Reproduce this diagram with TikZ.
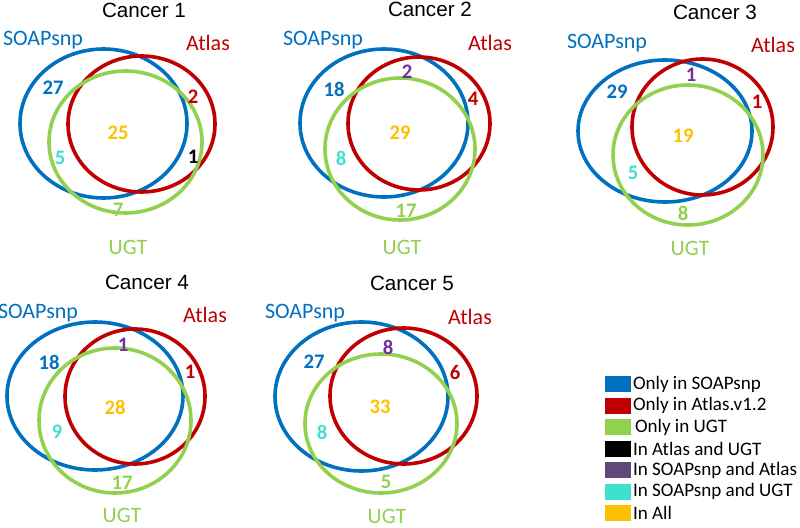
\documentclass[tikz,border=0pt]{standalone}
\usepackage{fontspec}
\setmainfont{Carlito}
\newfontfamily\titlefont{Liberation Sans}
\usepackage{tikz}
\usetikzlibrary{positioning}
\definecolor{corSoap}{RGB}{0,112,192}
\definecolor{corAtlas}{RGB}{192,0,0}
\definecolor{corUgt}{RGB}{146,208,80}
\definecolor{corPar}{RGB}{112,48,160}
\definecolor{corLegPar}{RGB}{96,73,122}
\definecolor{corTurq}{RGB}{64,224,208}
\definecolor{corAll}{RGB}{255,192,0}

\begin{document}
\begin{tikzpicture}[
    x=0.75pt, y=-0.75pt,
    node distance=3.75pt,
    soap/.style={draw=corSoap, line width=2.7pt},
    atlas/.style={draw=corAtlas, line width=2.7pt},
    ugt/.style={draw=corUgt, line width=2.7pt},
    ttl/.style={font=\titlefont\fontsize{15.5}{18}\selectfont},
    setname/.style={font=\fontsize{16.5}{20}\selectfont},
    num/.style={font=\bfseries\fontsize{15.5}{18}\selectfont, inner sep=0pt},
    swatch/.style={minimum width=19.5pt, minimum height=12pt, inner sep=0pt},
    leg/.style={font=\fontsize{14.3}{17}\selectfont, inner sep=0pt, anchor=west}
]
\useasboundingbox (0,0) rectangle (800,528);

% Cancer 1
\draw[soap]  (103.5,123.5) ellipse [x radius=83.5, y radius=74.5];
\draw[atlas] (141.5,124) ellipse [x radius=73.5, y radius=68];
\draw[ugt]   (125.5,142) ellipse [x radius=76.5, y radius=71];
\node[ttl] (t1) at (144,10) {Cancer 1};
\node[setname, text=corSoap] (s1) at (43,40) {SOAPsnp};
\node[setname, text=corAtlas] (a1) at (208,43) {Atlas};
\node[setname, text=corUgt] (u1) at (128,247) {UGT};
\node[num, text=corSoap] (n1s) at (53,88) {27};
\node[num, text=corAtlas] (n1a) at (193,97) {2};
\node[num, text=corAll] (n1all) at (118,133) {25};
\node[num, text=corTurq] (n1su) at (60,158) {5};
\node[num, text=black] (n1au) at (193,157) {1};
\node[num, text=corUgt] (n1u) at (118,210) {7};

% Cancer 2
\draw[soap]  (384,123) ellipse [x radius=84, y radius=74];
\draw[atlas] (419,123.5) ellipse [x radius=71, y radius=66.5];
\draw[ugt]   (400,149) ellipse [x radius=75, y radius=71];
\node[ttl] (t2) at (430,9) {Cancer 2};
\node[setname, text=corSoap] (s2) at (323,40) {SOAPsnp};
\node[setname, text=corAtlas] (a2) at (490,43) {Atlas};
\node[setname, text=corUgt] (u2) at (402,247) {UGT};
\node[num, text=corPar] (n2sa) at (407,72) {2};
\node[num, text=corSoap] (n2s) at (334,89) {18};
\node[num, text=corAtlas] (n2a) at (473,99) {4};
\node[num, text=corAll] (n2all) at (400,133) {29};
\node[num, text=corTurq] (n2su) at (341,158) {8};
\node[num, text=corUgt] (n2u) at (406,211) {17};

% Cancer 3
\draw[soap]  (665,131) ellipse [x radius=87, y radius=71];
\draw[atlas] (702.5,127) ellipse [x radius=70.5, y radius=68];
\draw[ugt]   (688,155) ellipse [x radius=75, y radius=70];
\node[ttl] (t3) at (715,12) {Cancer 3};
\node[setname, text=corSoap] (s3) at (607,43) {SOAPsnp};
\node[setname, text=corAtlas] (a3) at (773,45) {Atlas};
\node[setname, text=corUgt] (u3) at (690,248) {UGT};
\node[num, text=corPar] (n3sa) at (691,75) {1};
\node[num, text=corSoap] (n3s) at (617,92) {29};
\node[num, text=corAtlas] (n3a) at (757,102) {1};
\node[num, text=corAll] (n3all) at (683,136) {19};
\node[num, text=corTurq] (n3su) at (633,173) {5};
\node[num, text=corUgt] (n3u) at (683,213) {8};

% Cancer 4
\draw[soap]  (95,396) ellipse [x radius=88, y radius=74];
\draw[atlas] (135,396.5) ellipse [x radius=70, y radius=67.5];
\draw[ugt]   (115,420.5) ellipse [x radius=76, y radius=72.5];
\node[ttl] (t4) at (147,282) {Cancer 4};
\node[setname, text=corSoap] (s4) at (38,313) {SOAPsnp};
\node[setname, text=corAtlas] (a4) at (205,315) {Atlas};
\node[setname, text=corUgt] (u4) at (122,515) {UGT};
\node[num, text=corPar] (n4sa) at (123,345) {1};
\node[num, text=corSoap] (n4s) at (49,362) {18};
\node[num, text=corAtlas] (n4a) at (190,372) {1};
\node[num, text=corAll] (n4all) at (115,407) {28};
\node[num, text=corTurq] (n4su) at (57,432) {9};
\node[num, text=corUgt] (n4u) at (122,483) {17};

% Cancer 5
\draw[soap]  (361.5,396.5) ellipse [x radius=86.5, y radius=74.5];
\draw[atlas] (403.5,396) ellipse [x radius=73.5, y radius=68];
\draw[ugt]   (381,423.5) ellipse [x radius=76, y radius=69.5];
\node[ttl] (t5) at (412,283) {Cancer 5};
\node[setname, text=corSoap] (s5) at (305,313) {SOAPsnp};
\node[setname, text=corAtlas] (a5) at (470,317) {Atlas};
\node[setname, text=corUgt] (u5) at (387,516) {UGT};
\node[num, text=corPar] (n5sa) at (388,347) {8};
\node[num, text=corSoap] (n5s) at (314,362) {27};
\node[num, text=corAtlas] (n5a) at (455,373) {6};
\node[num, text=corAll] (n5all) at (380,407) {33};
\node[num, text=corTurq] (n5su) at (322,432) {8};
\node[num, text=corUgt] (n5u) at (386,482) {5};

% legend
\node[swatch, fill=corSoap] (k1) at (617.5,384) {};
\node[swatch, fill=corAtlas, below=of k1] (k2) {};
\node[swatch, fill=corUgt, below=of k2] (k3) {};
\node[swatch, fill=black, below=of k3] (k4) {};
\node[swatch, fill=corLegPar, below=of k4] (k5) {};
\node[swatch, fill=corTurq, below=of k5] (k6) {};
\node[swatch, fill=corAll, below=of k6] (k7) {};

\node[leg, right=1.5pt of k1] {Only in SOAPsnp};
\node[leg, right=1.5pt of k2] {Only in Atlas.v1.2};
\node[leg, right=3pt of k3] {Only in UGT};
\node[leg, right=1.5pt of k4] {In Atlas and UGT};
\node[leg, right=1.5pt of k5] {In SOAPsnp and Atlas};
\node[leg, right=1.5pt of k6] {In SOAPsnp and UGT};
\node[leg, right=1.5pt of k7] {In All};

\end{tikzpicture}
\end{document}
